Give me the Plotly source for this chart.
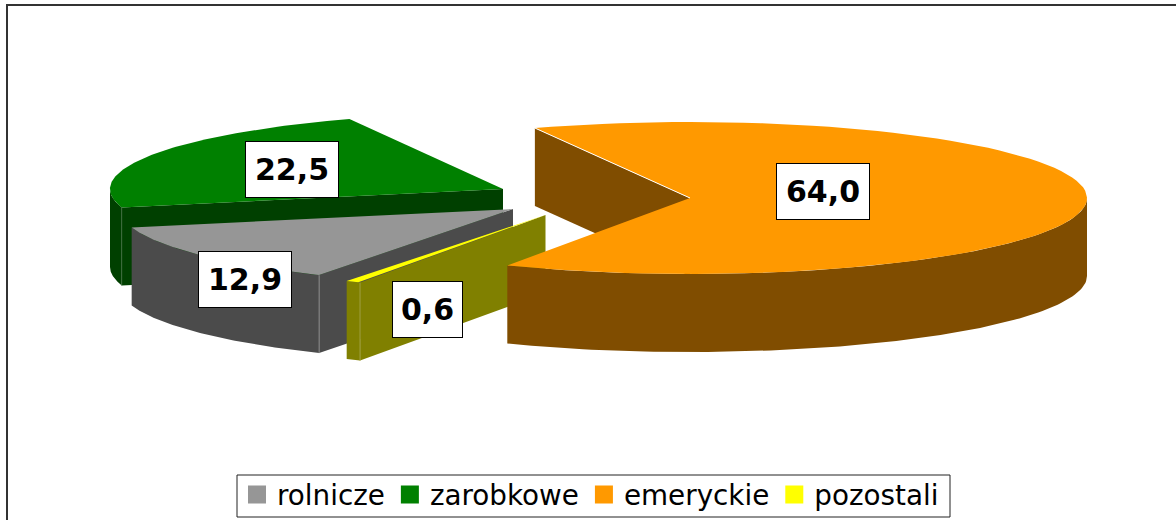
import math
import plotly.graph_objects as go

categories = ["rolnicze", "zarobkowe", "emeryckie", "pozostali"]
values = [12.9, 22.5, 64.0, 0.6]
value_labels = ["12,9", "22,5", "64,0", "0,6"]
top_colors = ["#969696", "#008000", "#FF9900", "#FFFF00"]
wall_colors = ["#4B4B4B", "#004000", "#804D00", "#808000"]

START = -119.56   # eccentric angle where the first slice begins; slices run clockwise
RY = 76
DEPTH = 78
# per category: centre x, centre y, horizontal radius (pie exploded, pixel-mapped axes)
GEOM = {
    "rolnicze": (513, 209, 393),
    "zarobkowe": (503, 189, 393),
    "emeryckie": (690, 198, 397),
    "pozostali": (545.5, 215, 403),
}
LABEL_BOX = {
    "rolnicze": (244.5, 279, 94, 57),
    "zarobkowe": (292, 169, 94, 57),
    "emeryckie": (823, 191.5, 94, 57),
    "pozostali": (427.5, 309.5, 71, 57),
}

angles = {}
a = START
for c, v in zip(categories, values):
    b = a - v * 3.6
    angles[c] = (a, b)
    a = b


def pt(c, t):
    cx, cy, rx = GEOM[c]
    r = math.radians(t)
    return cx + rx * math.cos(r), cy - RY * math.sin(r)


def arc(c, a0, a1, n=90):
    return [pt(c, a0 + (a1 - a0) * i / n) for i in range(n + 1)]


fig = go.Figure()


def poly(points, color):
    xs = [p[0] for p in points] + [points[0][0]]
    ys = [p[1] for p in points] + [points[0][1]]
    fig.add_trace(go.Scatter(x=xs, y=ys, mode="lines", fill="toself", fillcolor=color,
                             line=dict(width=0, color=color), hoverinfo="skip", showlegend=False))


def hair(p, q, color):
    fig.add_trace(go.Scatter(x=[p[0], q[0]], y=[p[1], q[1]], mode="lines",
                             line=dict(width=1, color=color), hoverinfo="skip", showlegend=False))


def down(p):
    return p[0], p[1] + DEPTH


def cut_face(c, t, color):
    cx, cy, _ = GEOM[c]
    e = pt(c, t)
    poly([(cx, cy), e, down(e), down((cx, cy))], color)


def arc_wall(c, a0, a1, color):
    top = arc(c, a0, a1)
    poly(top + [down(p) for p in reversed(top)], color)


def top_face(c):
    a0, a1 = angles[c]
    cx, cy, _ = GEOM[c]
    poly([(cx, cy)] + arc(c, a0, a1), top_colors[categories.index(c)])


# green
c = "zarobkowe"; w = wall_colors[1]
end = angles[c][0]
arc_wall(c, end, -180, w)
cut_face(c, end, w)
top_face(c)
hair(pt(c, end), down(pt(c, end)), "#3d6b3d")

# grey
c = "rolnicze"; w = wall_colors[0]
a0, a1 = angles[c]
arc_wall(c, a1, a0, w)
cut_face(c, a0, w)
top_face(c)
hair(pt(c, a0), down(pt(c, a0)), "#8a8a8a")

# yellow
c = "pozostali"; w = wall_colors[3]
a0, a1 = angles[c]
arc_wall(c, a1, a0, w)
cut_face(c, a0, w)
top_face(c)
hair(pt(c, a0), down(pt(c, a0)), "#a0a040")

# orange
c = "emeryckie"; w = wall_colors[2]
a0, a1 = angles[c]
cut_face(c, a0, w)
arc_wall(c, a1 + 360, 0, w)
top_face(c)
hair((GEOM[c][0], GEOM[c][1]), pt(c, a0), "#FFFFFF")

# legend entries
for c, col in zip(categories, top_colors):
    fig.add_trace(go.Scatter(x=[None], y=[None], mode="markers", name=c,
                             marker=dict(symbol="square", size=16, color=col,
                                         line=dict(width=2, color=col))))

for c, lab in zip(categories, value_labels):
    x, y, bw, bh = LABEL_BOX[c]
    fig.add_annotation(x=x, y=y, xref="x", yref="y", text=lab, showarrow=False,
                       width=bw - 2, height=bh - 2, bgcolor="#FFFFFF", bordercolor="#000000",
                       borderwidth=1, borderpad=0, align="center", valign="middle",
                       font=dict(family="DejaVu Sans", size=30, color="#000000", weight="bold"))

fig.add_shape(type="rect", x0=7, y0=5, x1=1230, y1=560, xref="x", yref="y",
              line=dict(color="#333333", width=2), layer="below")
fig.add_shape(type="rect", x0=237, y0=475, x1=950, y1=517, xref="x", yref="y",
              line=dict(color="#222222", width=1), fillcolor="#FFFFFF", layer="below")

fig.update_layout(
    width=1176, height=520, margin=dict(l=0, r=0, t=0, b=0, autoexpand=False),
    paper_bgcolor="#FFFFFF", plot_bgcolor="#FFFFFF",
    xaxis=dict(range=[0, 1176], visible=False, fixedrange=True),
    yaxis=dict(range=[520, 0], visible=False, fixedrange=True),
    showlegend=True,
    legend=dict(orientation="h", x=237 / 1176, xanchor="left", y=1 - 470 / 520, yanchor="top",
                borderwidth=0, bgcolor="rgba(0,0,0,0)",
                font=dict(family="DejaVu Sans", size=27.8, color="#000000"),
                itemwidth=30, traceorder="normal"),
)
fig.write_html("out.html", config={"displayModeBar": False},
               post_script="document.body.style.margin='0';")
